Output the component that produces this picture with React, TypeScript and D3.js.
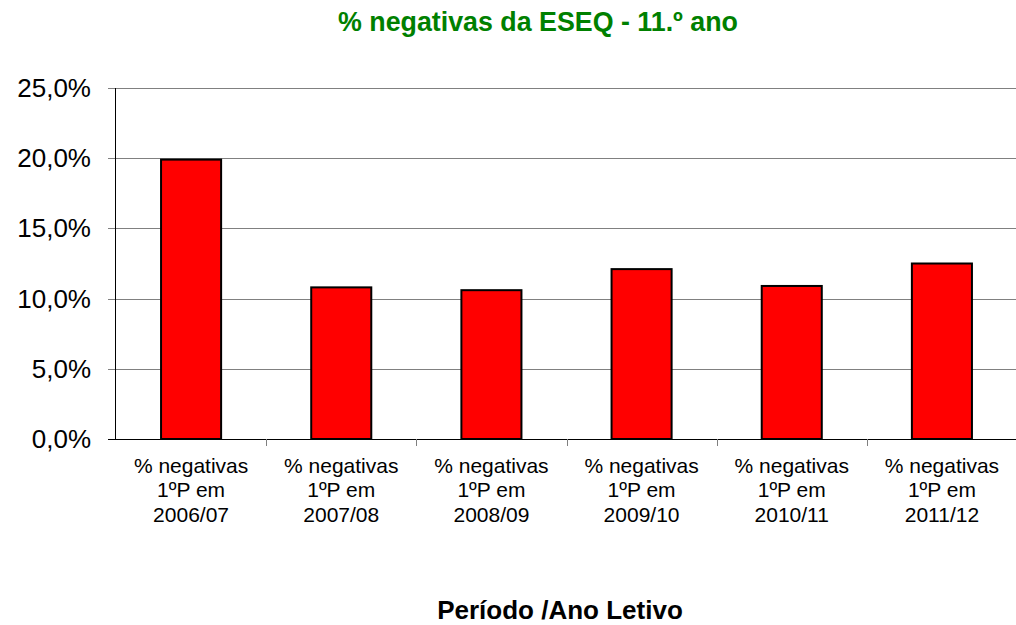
import { useEffect, useRef } from "react";
import * as d3 from "d3";

const categories = [
  "% negativas|1ºP em|2006/07",
  "% negativas|1ºP em|2007/08",
  "% negativas|1ºP em|2008/09",
  "% negativas|1ºP em|2009/10",
  "% negativas|1ºP em|2010/11",
  "% negativas|1ºP em|2011/12",
];
const values = [19.9, 10.8, 10.6, 12.1, 10.9, 12.5];
const yTicks = [0, 5, 10, 15, 20, 25];

const W = 1016;
const H = 625;

export default function App() {
  const svgRef = useRef<SVGSVGElement>(null);

  useEffect(() => {
    if (!svgRef.current) return;
    const svg = d3.select(svgRef.current);
    svg.selectAll("*").remove();

    const margin = { top: 88, right: -1, bottom: 186, left: 116 };
    const x = d3
      .scaleBand<string>()
      .domain(categories)
      .range([margin.left, W - margin.right])
      .paddingInner(0.6)
      .paddingOuter(0.3);
    const y = d3
      .scaleLinear()
      .domain([0, 25])
      .range([H - margin.bottom, margin.top]);

    const font = "'Liberation Sans', Arial, sans-serif";

    // gridlines
    svg
      .append("g")
      .selectAll("line")
      .data(yTicks.filter((t) => t > 0))
      .enter()
      .append("line")
      .attr("x1", margin.left)
      .attr("x2", W)
      .attr("y1", (d) => Math.round(y(d)) + 0.5)
      .attr("y2", (d) => Math.round(y(d)) + 0.5)
      .attr("stroke", "#808080")
      .attr("stroke-width", 1);

    // y ticks + labels
    yTicks.forEach((t) => {
      const yy = Math.round(y(t)) + 0.5;
      svg
        .append("line")
        .attr("x1", margin.left - 8)
        .attr("x2", margin.left)
        .attr("y1", yy)
        .attr("y2", yy)
        .attr("stroke", t === 0 ? "#000" : "#808080");
      svg
        .append("text")
        .attr("x", 91)
        .attr("y", yy + 8.5)
        .attr("text-anchor", "end")
        .style("font-family", font)
        .style("font-size", "26px")
        .attr("fill", "#000")
        .text(t.toFixed(1).replace(".", ",") + "%");
    });

    // bars
    svg
      .append("g")
      .selectAll("rect")
      .data(values)
      .enter()
      .append("rect")
      .attr("x", (_d, i) => x(categories[i])!)
      .attr("y", (d) => y(d))
      .attr("width", x.bandwidth())
      .attr("height", (d) => y(0) - y(d))
      .attr("fill", "#ff0000")
      .attr("stroke", "#000")
      .attr("stroke-width", 2);

    // axis lines
    svg
      .append("line")
      .attr("x1", margin.left - 0.5)
      .attr("x2", margin.left - 0.5)
      .attr("y1", y(25))
      .attr("y2", y(0))
      .attr("stroke", "#000");
    svg
      .append("line")
      .attr("x1", margin.left - 8)
      .attr("x2", W)
      .attr("y1", Math.round(y(0)) + 0.5)
      .attr("y2", Math.round(y(0)) + 0.5)
      .attr("stroke", "#000");

    // category ticks
    const step = x.step();
    for (let i = 1; i < categories.length; i++) {
      const xx = Math.round(margin.left + i * step) + 0.5;
      svg
        .append("line")
        .attr("x1", xx)
        .attr("x2", xx)
        .attr("y1", y(0))
        .attr("y2", y(0) + 7)
        .attr("stroke", "#808080");
    }

    // category labels
    categories.forEach((c) => {
      const cx = x(c)! + x.bandwidth() / 2;
      const t = svg
        .append("text")
        .attr("text-anchor", "middle")
        .style("font-family", font)
        .style("font-size", "21px")
        .attr("fill", "#000");
      c.split("|").forEach((line, j) => {
        t.append("tspan")
          .attr("x", cx)
          .attr("y", 472.5 + j * 24.7)
          .text(line);
      });
    });

    // title
    svg
      .append("text")
      .attr("x", 538)
      .attr("y", 31)
      .attr("text-anchor", "middle")
      .style("font-family", font)
      .style("font-size", "26.8px")
      .style("font-weight", "bold")
      .attr("fill", "#008000")
      .text("% negativas da ESEQ - 11.º ano");

    svg
      .append("text")
      .attr("x", 560)
      .attr("y", 619)
      .attr("text-anchor", "middle")
      .style("font-family", font)
      .style("font-size", "26px")
      .style("font-weight", "bold")
      .attr("fill", "#000")
      .text("Período /Ano Letivo");
  }, []);

  return (
    <div style={{ position: "absolute", left: 0, top: 0 }}>
      <svg ref={svgRef} width={W} height={H} style={{ display: "block", background: "#fff" }} />
    </div>
  );
}
